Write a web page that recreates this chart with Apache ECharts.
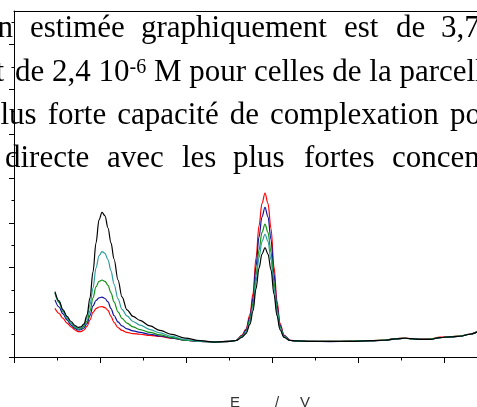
<!DOCTYPE html>
<html><head><meta charset="utf-8">
<script src="https://cdn.jsdelivr.net/npm/echarts@6/dist/echarts.min.js"></script>
<style>html,body{margin:0;padding:0;background:#fff}#c{width:477px;height:407px}</style>
</head><body><div id="c"></div>
<script>
// Potential E (V) – x positions of the sampled points
const potentials = [0.0953,0.1047,0.1140,0.1233,0.1326,0.1419,0.1488,0.1558,0.1628,0.1698,0.1767,0.1837,0.1907,0.1977,0.2047,0.2116,0.2186,0.2256,0.2326,0.2419,0.2512,0.2628,0.2767,0.2930,0.3163,0.3395,0.3674,0.3977,0.4326,0.4674,0.5023,0.5163,
  0.5302,0.5395,0.5488,0.5558,0.5628,0.5698,0.5767,0.5837,0.5907,0.5977,0.6047,0.6116,0.6186,0.6279,0.6419,0.6558,
  0.6884,0.7349,0.7814,0.8279,0.8628,0.8860,0.9093,0.9256,0.9442,0.9674,0.9907,1.0140,1.0372,1.0605,1.0837,1.1070];

const curveBlack = [2.93,2.51,2.11,1.82,1.59,1.41,1.33,1.35,1.48,1.88,2.65,3.81,5.11,6.14,6.48,6.32,5.78,5.11,4.39,3.45,2.69,2.11,1.82,1.64,1.39,1.19,1.01,0.85,0.73,0.67,0.70,0.74,
  0.88,1.05,1.47,2.06,3.06,3.98,4.61,4.90,4.61,3.90,2.81,1.85,1.22,0.88,0.74,0.72,
  0.70,0.70,0.70,0.73,0.75,0.81,0.84,0.82,0.79,0.79,0.87,0.90,0.93,1.02,1.14,1.30];
const curveTeal = [2.88,2.47,2.06,1.75,1.52,1.35,1.28,1.30,1.43,1.77,2.33,3.09,3.99,4.53,4.72,4.64,4.35,3.86,3.27,2.60,2.13,1.84,1.59,1.43,1.23,1.08,0.92,0.78,0.70,0.67,0.70,0.74,
  0.91,1.10,1.58,2.25,3.40,4.45,5.17,5.50,5.17,4.35,3.11,2.01,1.29,0.91,0.74,0.72,
  0.70,0.70,0.70,0.73,0.75,0.81,0.84,0.82,0.79,0.79,0.87,0.90,0.93,1.02,1.14,1.30];
const curveGreen = [2.86,2.44,2.04,1.73,1.50,1.32,1.26,1.27,1.37,1.61,2.06,2.65,3.14,3.39,3.45,3.39,3.21,2.87,2.47,2.02,1.73,1.52,1.35,1.23,1.10,0.99,0.87,0.76,0.70,0.67,0.70,0.74,
  0.93,1.13,1.66,2.39,3.65,4.80,5.58,5.95,5.58,4.70,3.33,2.13,1.35,0.93,0.74,0.72,
  0.70,0.70,0.71,0.73,0.76,0.82,0.84,0.81,0.79,0.80,0.87,0.90,0.94,1.02,1.14,1.30];
const curveBlue = [2.56,2.24,1.93,1.66,1.43,1.28,1.21,1.22,1.30,1.50,1.86,2.29,2.53,2.65,2.68,2.62,2.47,2.17,1.86,1.57,1.39,1.26,1.17,1.10,1.02,0.94,0.85,0.75,0.70,0.67,0.70,0.74,
  0.96,1.20,1.79,2.63,4.06,5.38,6.28,6.70,6.28,5.26,3.70,2.33,1.43,0.96,0.75,0.72,
  0.70,0.69,0.70,0.72,0.75,0.80,0.84,0.82,0.79,0.79,0.87,0.90,0.93,1.02,1.14,1.30];
const curveRed = [2.18,1.95,1.73,1.52,1.35,1.21,1.14,1.14,1.21,1.37,1.66,2.00,2.17,2.24,2.26,2.21,2.09,1.82,1.55,1.32,1.19,1.10,1.05,1.02,0.97,0.92,0.84,0.75,0.70,0.67,0.70,0.74,
  0.98,1.25,1.91,2.84,4.43,5.88,6.88,7.34,6.88,5.75,4.03,2.51,1.51,0.98,0.75,0.72,
  0.70,0.70,0.71,0.73,0.76,0.82,0.85,0.82,0.80,0.80,0.89,0.91,0.94,1.03,1.15,1.30];

const yMajorTicks = [0,2,4,6,8,10,12,14];
const yMinorTicks = [0,1,2,3,4,5,6,7,8,9,10,11,12,13,14,15];
const xAxisTitle = ['E','/','V'];

const curves = [
  {name:'5', data: curveRed, color:'#ff0000'},
  {name:'4', data: curveBlue, color:'#1010a0'},
  {name:'3', data: curveGreen, color:'#109010'},
  {name:'2', data: curveTeal, color:'#2c9c9c'},
  {name:'1', data: curveBlack, color:'#000000'}
];

const chart = echarts.init(document.getElementById('c'), null, {renderer:'canvas'});

const serif = '31px "Liberation Serif", "Times New Roman", serif';
function t(text, x, y, opts) {
  opts = opts || {};
  return {type:'text', x:x, y:y, z:100, silent:true,
    style:{text:text, font: opts.font || serif, fill:'#000',
      align: opts.align || 'left', textAlign: opts.align || 'left',
      verticalAlign:'middle', textVerticalAlign:'middle'}};
}
const sans = '15px "Liberation Sans", Arial, sans-serif';

const option = {
  animation:false,
  backgroundColor:'#ffffff',
  grid:{left:14, top:11, bottom:50, width:516, containLabel:false, outerBoundsMode:'none'},
  xAxis:[
    {type:'value', position:'bottom', min:0, max:1.2, interval:0.2,
     axisLine:{show:true, onZero:false, lineStyle:{color:'#000', width:1}},
     axisTick:{show:true, length:6, lineStyle:{color:'#000'}},
     axisLabel:{show:false}, splitLine:{show:false}},
    {type:'value', position:'bottom', min:0, max:1.2, interval:0.1,
     axisLine:{show:false, onZero:false},
     axisTick:{show:true, length:3.5, lineStyle:{color:'#000'}},
     axisLabel:{show:false}, splitLine:{show:false}},
    {type:'value', position:'top', min:0, max:1.2,
     axisLine:{show:true, onZero:false, lineStyle:{color:'#000', width:1}},
     axisTick:{show:false}, axisLabel:{show:false}, splitLine:{show:false}}
  ],
  yAxis:[
    {type:'value', position:'left', min:0, max:15.5, interval:2,
     axisLine:{show:true, onZero:false, lineStyle:{color:'#000', width:1}},
     axisTick:{show:true, length:5, customValues: yMajorTicks, lineStyle:{color:'#000'}},
     axisLabel:{show:false}, splitLine:{show:false}},
    {type:'value', position:'left', min:0, max:15.5, interval:1,
     axisLine:{show:false, onZero:false},
     axisTick:{show:true, length:2.5, customValues: yMinorTicks, lineStyle:{color:'#000'}},
     axisLabel:{show:false}, splitLine:{show:false}}
  ],
  series: curves.map(c => ({
    name:c.name, type:'line', xAxisIndex:0, yAxisIndex:0,
    data: potentials.map((x,i)=>[x, c.data[i]]),
    showSymbol:false, smooth:0.35, smoothMonotone:'x', clip:true,
    lineStyle:{color:c.color, width:1.2}, itemStyle:{color:c.color}
  })),
  graphic:[
    // line 1 (justified)
    t('on', 13, 28.5, {align:'right'}),
    t('estimée', 30, 28.5), t('graphiquement', 141, 28.5), t('est', 344, 28.5),
    t('de', 396, 28.5), t('3,7', 441, 28.5),
    // line 2
    t('et', 4, 72.5, {align:'right'}),
    t('de 2,4 10', 15, 72.5),
    t('-6', 129.6, 68, {font:'20px "Liberation Serif", "Times New Roman", serif'}),
    t(' M pour celles de la parcelle', 146.3, 72.5),
    // line 3
    t('plus', -15, 116), t('forte', 47.7, 116), t('capacité', 117.2, 116), t('de', 229.8, 116),
    t('complexation', 270.1, 116), t('pour', 449.9, 116),
    // line 4
    t('directe', 5, 158.5), t('avec', 107, 158.5), t('les', 182, 158.5), t('plus', 233, 158.5),
    t('fortes', 304, 158.5), t('concentrations', 392, 158.5),
    // axis title
    {type:'text', x:230, y:403, silent:true, style:{text:xAxisTitle[0], font:sans, fill:'#333', verticalAlign:'middle', textVerticalAlign:'middle'}},
    {type:'text', x:275, y:403, silent:true, style:{text:xAxisTitle[1], font:sans, fill:'#333', verticalAlign:'middle', textVerticalAlign:'middle'}},
    {type:'text', x:300, y:403, silent:true, style:{text:xAxisTitle[2], font:sans, fill:'#333', verticalAlign:'middle', textVerticalAlign:'middle'}}
  ]
};
chart.setOption(option);
</script></body></html>
